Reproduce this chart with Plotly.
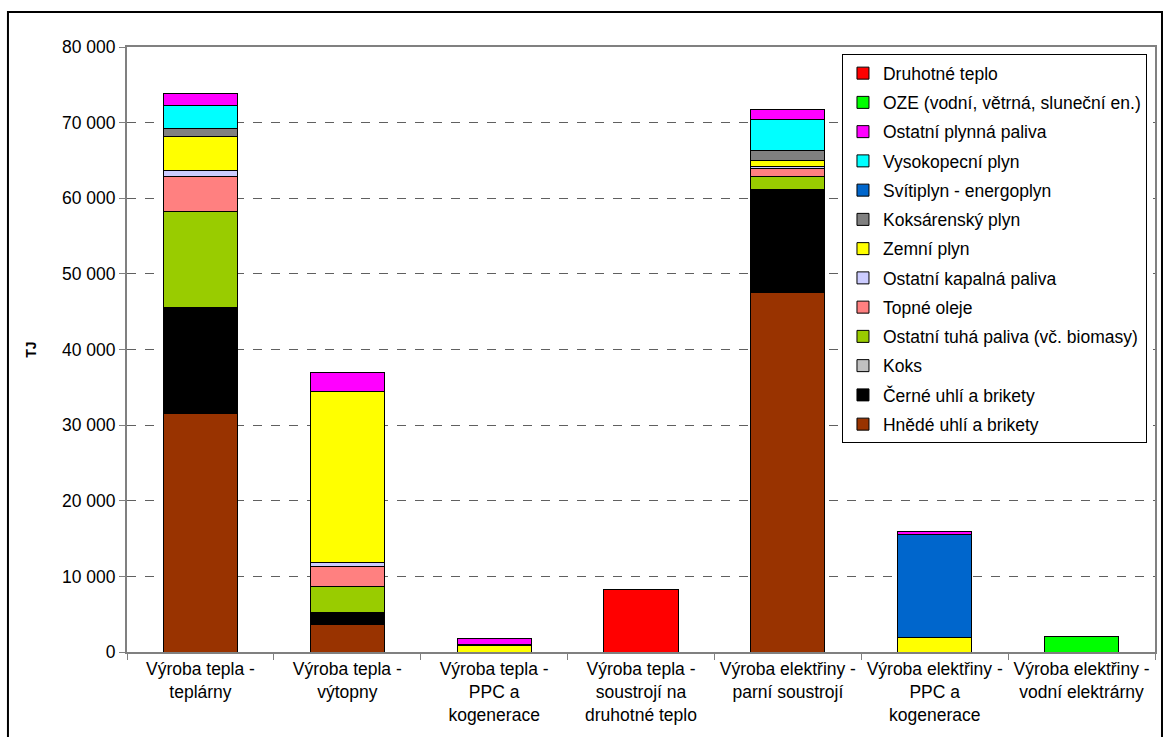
import plotly.graph_objects as go

categories = [
    "Výroba tepla -<br>teplárny",
    "Výroba tepla -<br>výtopny",
    "Výroba tepla -<br>PPC a<br>kogenerace",
    "Výroba tepla -<br>soustrojí na<br>druhotné teplo",
    "Výroba elektřiny -<br>parní soustrojí",
    "Výroba elektřiny -<br>PPC a<br>kogenerace",
    "Výroba elektřiny -<br>vodní elektrárny",
]

# stacking order bottom -> top
hnede_uhli = [31600, 3700, 0, 0, 47500, 0, 0]
cerne_uhli = [14000, 1500, 0, 0, 13700, 0, 0]
koks = [0, 0, 0, 0, 0, 0, 0]
ostatni_tuha = [12700, 3500, 0, 0, 1700, 0, 0]
topne_oleje = [4600, 2600, 0, 0, 1100, 0, 0]
ostatni_kapalna = [800, 500, 0, 0, 200, 0, 0]
zemni_plyn = [4500, 22600, 800, 0, 800, 1950, 0]
koksarensky_plyn = [1000, 0, 0, 0, 1250, 0, 0]
svitiplyn = [0, 0, 250, 0, 0, 13550, 0]
vysokopecni_plyn = [3000, 0, 0, 0, 4150, 0, 0]
ostatni_plynna = [1600, 2600, 750, 0, 1300, 450, 0]
oze = [0, 0, 0, 0, 0, 0, 2050]
druhotne_teplo = [0, 0, 0, 8200, 0, 0, 0]

series = [
    ("Hnědé uhlí a brikety", hnede_uhli, "#993300"),
    ("Černé uhlí a brikety", cerne_uhli, "#000000"),
    ("Koks", koks, "#C0C0C0"),
    ("Ostatní tuhá paliva (vč. biomasy)", ostatni_tuha, "#99CC00"),
    ("Topné oleje", topne_oleje, "#FF8080"),
    ("Ostatní kapalná paliva", ostatni_kapalna, "#CCCCFF"),
    ("Zemní plyn", zemni_plyn, "#FFFF00"),
    ("Koksárenský plyn", koksarensky_plyn, "#808080"),
    ("Svítiplyn - energoplyn", svitiplyn, "#0066CC"),
    ("Vysokopecní plyn", vysokopecni_plyn, "#00FFFF"),
    ("Ostatní plynná paliva", ostatni_plynna, "#FF00FF"),
    ("OZE (vodní, větrná, sluneční en.)", oze, "#00FF00"),
    ("Druhotné teplo", druhotne_teplo, "#FF0000"),
]

FONT = "Arial, 'Liberation Sans', sans-serif"

fig = go.Figure()
n = len(series)
for i, (name, vals, color) in enumerate(series):
    fig.add_trace(go.Bar(
        x=categories,
        y=[v if v else None for v in vals],
        name=name,
        legendgroup=f"g{i}",
        legendrank=n - i,
        marker=dict(color=color, line=dict(color="#000000", width=1)),
    ))

fig.update_layout(
    width=1170, height=737,
    barmode="stack",
    bargap=0.496,
    separators=", ",
    paper_bgcolor="white",
    plot_bgcolor="white",
    font=dict(family=FONT, size=17.5, color="black"),
    margin=dict(l=127, r=15, t=47, b=85),
    showlegend=True,
    legend=dict(
        x=0.6955, y=0.988, xanchor="left", yanchor="top",
        bgcolor="white", bordercolor="black", borderwidth=1,
        traceorder="grouped", tracegroupgap=3.5,
        font=dict(family=FONT, size=17.5, color="black"),
    ),
    xaxis=dict(
        showgrid=False,
        ticks="outside", tickson="boundaries", ticklen=6, tickcolor="#808080",
        showline=True, linecolor="#808080", linewidth=2, mirror=True,
        tickfont=dict(family=FONT, size=17.5, color="black"),
    ),
    yaxis=dict(
        range=[0, 80000], dtick=10000, tickformat=",d",
        showgrid=True, gridcolor="#606060", griddash="dash", gridwidth=1,
        ticks="outside", ticklen=6, tickcolor="#808080",
        showline=True, linecolor="#808080", linewidth=2, mirror=True,
        zeroline=False,
        tickfont=dict(family=FONT, size=17.5, color="black"),
        title=dict(text="<b>TJ</b>", font=dict(family=FONT, size=14, color="black"), standoff=22),
    ),
    shapes=[dict(
        type="rect", xref="paper", yref="paper",
        x0=-0.1158, x1=1.0068, y0=-0.16, y1=1.0579,
        line=dict(color="black", width=2), fillcolor="rgba(0,0,0,0)", layer="above",
    )],
)

fig.write_html("out.html")
